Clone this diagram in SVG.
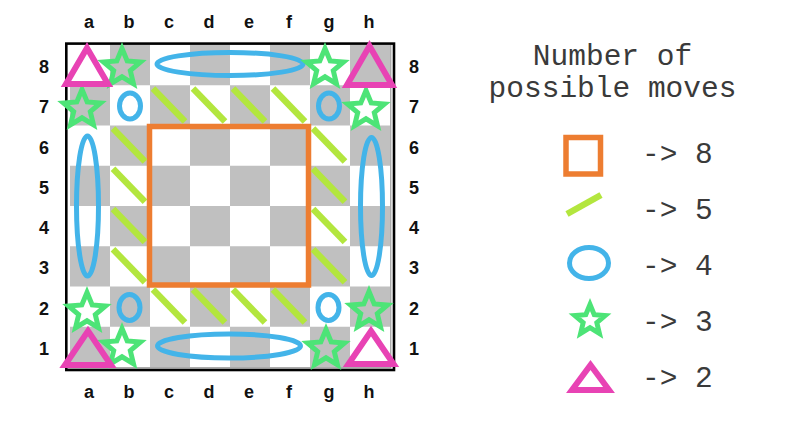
<svg xmlns="http://www.w3.org/2000/svg" xmlns:xlink="http://www.w3.org/1999/xlink" width="793" height="421" viewBox="0 0 793 421">
<style>
.dk{fill:#c0c0c0}
.lbl{font-family:"Liberation Sans",Arial,sans-serif;font-weight:bold;font-size:18px;fill:#111;text-anchor:middle}
.mono{font-family:"Liberation Mono","Courier New",monospace;font-size:29.5px;fill:#3a3a3a}
.sq{fill:none;stroke:#ed7d31;stroke-width:5.5}
.ln{stroke:#b3e63e;stroke-width:6.5;stroke-linecap:butt}
.el{fill:none;stroke:#43b4e9;stroke-width:5}
.st{fill:none;stroke:#4de477;stroke-width:5;stroke-linejoin:miter}
.tr{fill:none;stroke:#e843b4;stroke-width:6;stroke-linejoin:miter}
</style>
<defs>
<path id="star" d="M0,-19.5 L5.2,-7.1 L18.55,-6.03 L8.3,2.7 L11.46,15.78 L0,8.8 L-11.46,15.78 L-8.3,2.7 L-18.55,-6.03 L-5.2,-7.1 Z"/>
<path id="starS" d="M0,-16 L4.23,-5.82 L15.22,-4.94 L6.85,2.22 L9.4,12.94 L0,7.2 L-9.4,12.94 L-6.85,2.22 L-15.22,-4.94 L-4.23,-5.82 Z"/>
</defs>
<rect width="793" height="421" fill="#fff"/>
<g id="board">
<rect x="70" y="45" width="320" height="322" fill="#fff"/>
<rect class="dk" x="110" y="45" width="40" height="40.25"/><rect class="dk" x="190" y="45" width="40" height="40.25"/><rect class="dk" x="270" y="45" width="40" height="40.25"/><rect class="dk" x="350" y="45" width="40" height="40.25"/>
<rect class="dk" x="70" y="85.25" width="40" height="40.25"/><rect class="dk" x="150" y="85.25" width="40" height="40.25"/><rect class="dk" x="230" y="85.25" width="40" height="40.25"/><rect class="dk" x="310" y="85.25" width="40" height="40.25"/>
<rect class="dk" x="110" y="125.5" width="40" height="40.25"/><rect class="dk" x="190" y="125.5" width="40" height="40.25"/><rect class="dk" x="270" y="125.5" width="40" height="40.25"/><rect class="dk" x="350" y="125.5" width="40" height="40.25"/>
<rect class="dk" x="70" y="165.75" width="40" height="40.25"/><rect class="dk" x="150" y="165.75" width="40" height="40.25"/><rect class="dk" x="230" y="165.75" width="40" height="40.25"/><rect class="dk" x="310" y="165.75" width="40" height="40.25"/>
<rect class="dk" x="110" y="206" width="40" height="40.25"/><rect class="dk" x="190" y="206" width="40" height="40.25"/><rect class="dk" x="270" y="206" width="40" height="40.25"/><rect class="dk" x="350" y="206" width="40" height="40.25"/>
<rect class="dk" x="70" y="246.25" width="40" height="40.25"/><rect class="dk" x="150" y="246.25" width="40" height="40.25"/><rect class="dk" x="230" y="246.25" width="40" height="40.25"/><rect class="dk" x="310" y="246.25" width="40" height="40.25"/>
<rect class="dk" x="110" y="286.5" width="40" height="40.25"/><rect class="dk" x="190" y="286.5" width="40" height="40.25"/><rect class="dk" x="270" y="286.5" width="40" height="40.25"/><rect class="dk" x="350" y="286.5" width="40" height="40.25"/>
<rect class="dk" x="70" y="326.75" width="40" height="40.25"/><rect class="dk" x="150" y="326.75" width="40" height="40.25"/><rect class="dk" x="230" y="326.75" width="40" height="40.25"/><rect class="dk" x="310" y="326.75" width="40" height="40.25"/>
<path d="M390.8,45 V367.8 H68" fill="none" stroke="#888" stroke-width="1"/>
<rect x="66.3" y="43.6" width="327.7" height="326.4" fill="none" stroke="#000" stroke-width="2.6"/>
</g>
<g id="labels" class="lbl">
<text x="89" y="28">a</text><text x="129" y="28">b</text><text x="169" y="28">c</text><text x="209" y="28">d</text><text x="249" y="28">e</text><text x="289" y="28">f</text><text x="329" y="28">g</text><text x="369" y="28">h</text>
<text x="89" y="398">a</text><text x="129" y="398">b</text><text x="169" y="398">c</text><text x="209" y="398">d</text><text x="249" y="398">e</text><text x="289" y="398">f</text><text x="329" y="398">g</text><text x="369" y="398">h</text>
<text x="44" y="73">8</text><text x="44" y="113.4">7</text><text x="44" y="153.6">6</text><text x="44" y="193.9">5</text><text x="44" y="234.1">4</text><text x="44" y="274.4">3</text><text x="44" y="314.6">2</text><text x="44" y="354.9">1</text>
<text x="414" y="73">8</text><text x="414" y="113.4">7</text><text x="414" y="153.6">6</text><text x="414" y="193.9">5</text><text x="414" y="234.1">4</text><text x="414" y="274.4">3</text><text x="414" y="314.6">2</text><text x="414" y="354.9">1</text>
</g>
<g id="center8">
<rect class="sq" x="149.5" y="126.5" width="159" height="158.5"/>
</g>
<g id="lines5">
<line class="ln" x1="153" y1="88.5" x2="185" y2="121.5"/><line class="ln" x1="193" y1="88.5" x2="225" y2="121.5"/><line class="ln" x1="233" y1="88.5" x2="265" y2="121.5"/><line class="ln" x1="273" y1="88.5" x2="305" y2="121.5"/>
<line class="ln" x1="153" y1="289.5" x2="185" y2="322.5"/><line class="ln" x1="193" y1="289.5" x2="225" y2="322.5"/><line class="ln" x1="233" y1="289.5" x2="265" y2="322.5"/><line class="ln" x1="273" y1="289.5" x2="305" y2="322.5"/>
<line class="ln" x1="113" y1="128.5" x2="145" y2="161.5"/><line class="ln" x1="113" y1="168.75" x2="145" y2="201.75"/><line class="ln" x1="113" y1="209" x2="145" y2="242"/><line class="ln" x1="113" y1="249.25" x2="145" y2="282.25"/>
<line class="ln" x1="313" y1="128.5" x2="345" y2="161.5"/><line class="ln" x1="313" y1="168.75" x2="345" y2="201.75"/><line class="ln" x1="313" y1="209" x2="345" y2="242"/><line class="ln" x1="313" y1="249.25" x2="345" y2="282.25"/>
</g>
<g id="ellipses4">
<ellipse class="el" cx="230" cy="64" rx="73" ry="11.5"/>
<ellipse class="el" cx="229" cy="346" rx="71.5" ry="12"/>
<ellipse class="el" cx="87.5" cy="206" rx="11" ry="70"/>
<ellipse class="el" cx="371.5" cy="206.5" rx="11" ry="69"/>
<ellipse class="el" cx="130" cy="106" rx="10.5" ry="13"/>
<ellipse class="el" cx="329" cy="106" rx="10.5" ry="13"/>
<ellipse class="el" cx="129.5" cy="307.5" rx="10.5" ry="13"/>
<ellipse class="el" cx="328.5" cy="307.5" rx="10.5" ry="13"/>
</g>
<g id="stars3">
<use class="st" xlink:href="#star" href="#star" transform="translate(122,68)"/>
<use class="st" xlink:href="#star" href="#star" transform="translate(82,109)"/>
<use class="st" xlink:href="#star" href="#star" transform="translate(325,68)"/>
<use class="st" xlink:href="#star" href="#star" transform="translate(366,110)"/>
<use class="st" xlink:href="#star" href="#star" transform="translate(87,312)"/>
<use class="st" xlink:href="#star" href="#star" transform="translate(122,348)"/>
<use class="st" xlink:href="#star" href="#star" transform="translate(326,349)"/>
<use class="st" xlink:href="#star" href="#star" transform="translate(369,311)"/>
</g>
<g id="triangles2">
<path class="tr" d="M87,48 L108,84 L66,84 Z"/>
<path class="tr" d="M369.5,46 L392,85 L347,85 Z"/>
<path class="tr" d="M88,331 L111,365 L65,365 Z"/>
<path class="tr" d="M371,331 L393.5,364 L348.5,364 Z"/>
</g>
<g id="legend">
<text class="mono" x="612.5" y="65" text-anchor="middle">Number of</text>
<text class="mono" x="612.5" y="97" text-anchor="middle">possible moves</text>
<g id="leg8"><rect class="sq" x="566" y="137.5" width="34.5" height="36.5"/><text class="mono" x="642" y="163">-&gt; 8</text></g>
<g id="leg5"><line class="ln" x1="567" y1="214" x2="601" y2="195"/><text class="mono" x="642" y="219">-&gt; 5</text></g>
<g id="leg4"><ellipse class="el" cx="589" cy="263" rx="19.5" ry="15.5"/><text class="mono" x="642" y="275">-&gt; 4</text></g>
<g id="leg3"><use class="st" xlink:href="#starS" href="#starS" transform="translate(590,320.5)"/><text class="mono" x="642" y="331">-&gt; 3</text></g>
<g id="leg2"><path class="tr" d="M590.5,365 L609,390 L572,390 Z"/><text class="mono" x="642" y="387">-&gt; 2</text></g>
</g>
</svg>
